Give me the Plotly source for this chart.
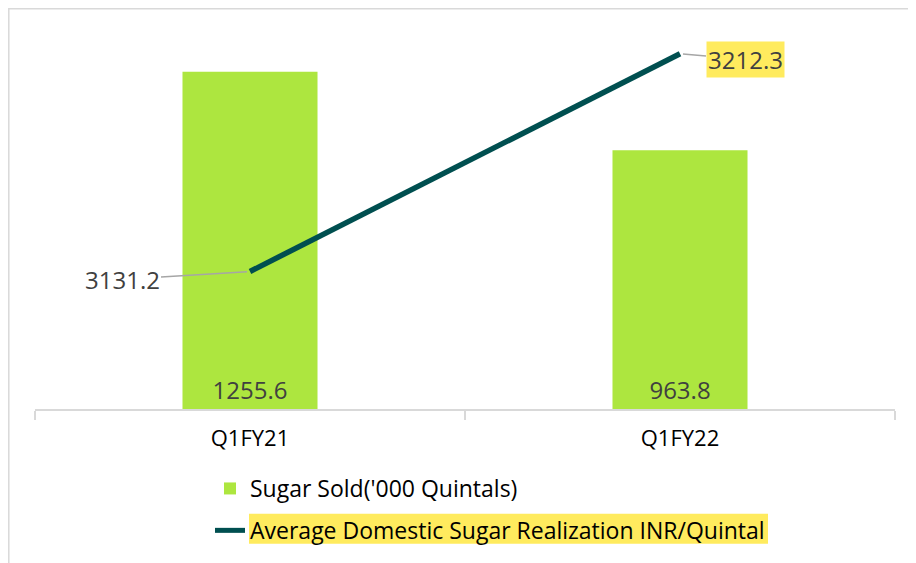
import plotly.graph_objects as go

categories = ["Q1FY21", "Q1FY22"]
sugar_sold = [1255.6, 963.8]
avg_realization = [3131.2, 3212.3]
bar_name = "Sugar Sold('000 Quintals)"
line_name = "Average Domestic Sugar Realization INR/Quintal"

FONT = "Open Sans"
OFF = 8  # page body margin
W, H = 916 - OFF, 563 - OFF
L, R, T, B = 35 - OFF, 21, 33 - OFF, 153

fig = go.Figure()
fig.add_trace(go.Bar(
    x=categories, y=sugar_sold, name=bar_name, legendgroup="a",
    marker=dict(color="#ADE63F", line=dict(width=0)),
    text=[f"{v:.1f}" for v in sugar_sold],
    textposition="inside", insidetextanchor="start",
    textfont=dict(family=FONT, size=24, color="#404040"),
    textangle=0, cliponaxis=False,
))
fig.add_trace(go.Scatter(
    x=categories, y=avg_realization, name=line_name, yaxis="y2", legendgroup="b",
    mode="lines", line=dict(color="#004F50", width=5.5),
))

# data labels for line with leader lines
offsets = [(-128, 8), (65, 6)]
for i, (cat, v) in enumerate(zip(categories, avg_realization)):
    ax, ay = offsets[i]
    fig.add_annotation(
        x=cat, y=v, xref="x", yref="y2", text=f"{v:.1f}",
        showarrow=True, arrowhead=0, arrowwidth=1.5, arrowcolor="#A6A6A6",
        ax=ax, ay=ay, standoff=3,
        font=dict(family=FONT, size=24, color="#404040"),
        bgcolor="#FFEB5E" if i == 1 else "rgba(0,0,0,0)",
        borderpad=1,
    )

pw = W - L - R
ph = H - T - B
def px(x):  # page x -> paper
    return (x - OFF - L) / pw
def py(y):  # page y -> paper
    return (H - B - (y - OFF)) / ph

shapes = [
    # outer chart border
    dict(type="rect", xref="paper", yref="paper", x0=px(8.8), x1=px(940), y0=py(8.8), y1=py(590),
         line=dict(color="#D9D9D9", width=1.5), fillcolor="rgba(0,0,0,0)", layer="below"),
    # highlight behind second legend entry text
    dict(type="rect", xref="paper", yref="paper", x0=px(249), x1=px(768), y0=py(545), y1=py(515),
         line=dict(width=0), fillcolor="#FFEB5E", layer="below"),
]

fig.update_layout(
    width=W, height=H,
    margin=dict(l=L, r=R, t=T, b=B, pad=0),
    paper_bgcolor="white", plot_bgcolor="white",
    font=dict(family=FONT, color="#000000"),
    bargap=0.686,
    showlegend=True,
    legend=dict(
        orientation="v", x=px(210), y=py(467), xanchor="left", yanchor="top",
        font=dict(family=FONT, size=23, color="#000000"),
        bgcolor="rgba(0,0,0,0)", traceorder="grouped", tracegroupgap=9,
        itemsizing="constant",
    ),
    xaxis=dict(
        showline=True, linecolor="#D9D9D9", linewidth=1.5,
        ticks="outside", tickson="boundaries", ticklen=9, tickcolor="#D9D9D9", tickwidth=1.5,
        tickfont=dict(family=FONT, size=22, color="#000000"),
        ticklabelstandoff=9,
        showgrid=False, zeroline=False,
    ),
    yaxis=dict(range=[0, 1400], visible=False, showgrid=False, zeroline=False),
    yaxis2=dict(range=[3080, 3220], overlaying="y", side="right", visible=False,
                showgrid=False, zeroline=False),
    shapes=shapes,
)

fig.write_html("out.html")
